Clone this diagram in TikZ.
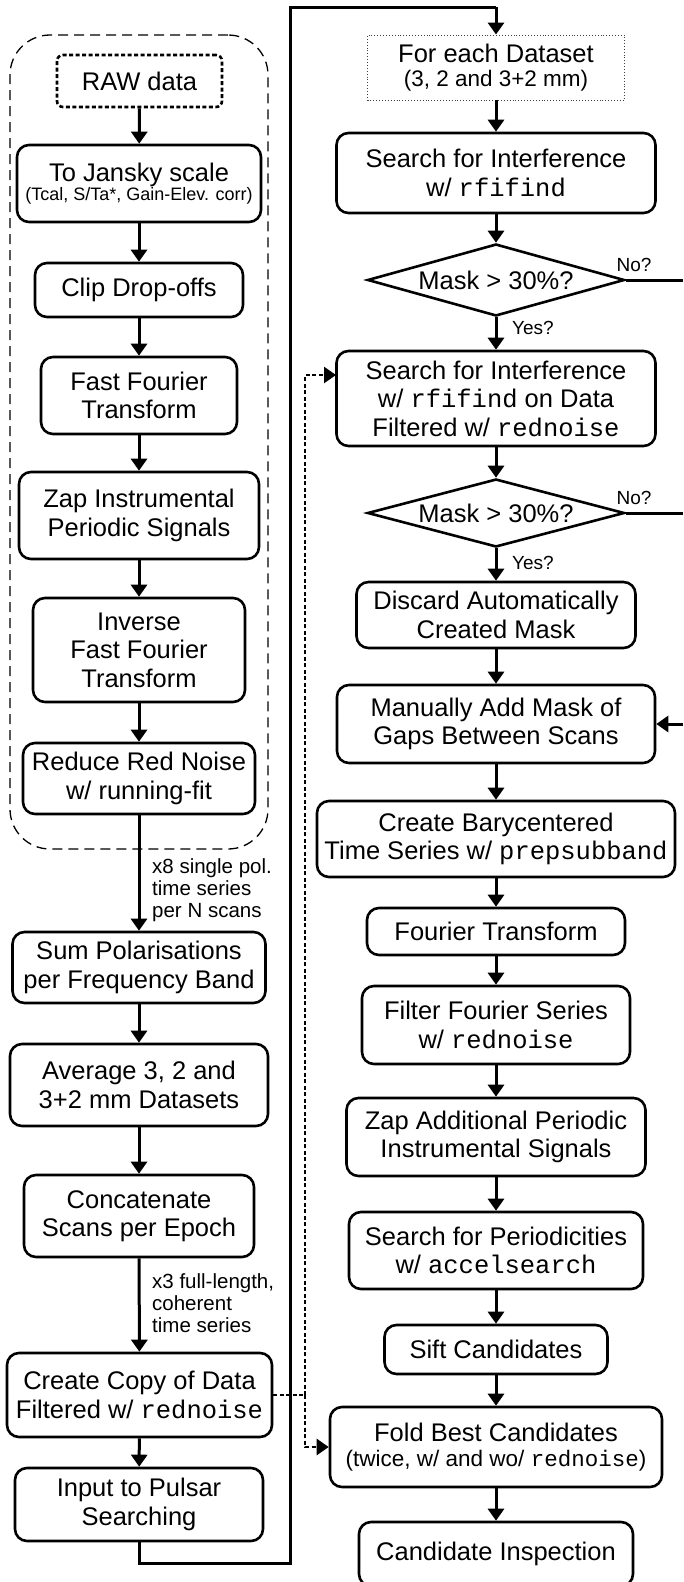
\documentclass[tikz,border=0pt]{standalone}
\usepackage{fontspec}
\setmainfont{Liberation Sans}
\setmonofont{Liberation Mono}
\usetikzlibrary{arrows.meta,shapes.geometric}
\newcommand\smalltxt{\fontsize{18}{20}\selectfont}
\newcommand\midtxt{\fontsize{22.5}{25}\selectfont}
\newcommand\labeltxt{\fontsize{20.5}{22}\selectfont}
\begin{document}
\begin{tikzpicture}[x=1pt,y=-1pt,
  box/.style={draw, line width=2.6pt, rounded corners=12pt, align=center, inner sep=0pt, font=\fontsize{25.5}{28.5}\selectfont},
  dec/.style={draw, shape=diamond, line width=2.6pt, aspect=3.57, inner sep=0pt, font=\fontsize{25.5}{28.5}\selectfont},
  arr/.style={line width=3pt, -{Triangle[length=12pt,width=16pt]}},
  ln/.style={line width=3pt},
  dots/.style={line width=2.6pt, dash pattern=on 4pt off 2.5pt},
  lbl/.style={font=\labeltxt, align=left, inner sep=0pt, anchor=west},
  yn/.style={font=\fontsize{19}{22}\selectfont, inner sep=0pt}
]
\useasboundingbox (0,0) rectangle (683,1582);
% group
\node[draw, line width=1.3pt, dash pattern=on 10pt off 6pt, rounded corners=40pt, minimum width=258pt, minimum height=814pt, inner sep=0pt] (group) at (139,442) {};
% left column
\node[box, line width=2.6pt, dash pattern=on 4pt off 2.5pt, rounded corners=6pt, minimum width=165pt, minimum height=52pt] (raw) at (139.5,81) {RAW data};
\node[box, minimum width=244pt, minimum height=77pt] (jansky) at (139,183.5) {To Jansky scale\\[-9pt]{\smalltxt (Tcal, S/Ta*, Gain-Elev. corr)}};
\node[box, minimum width=208pt, minimum height=54pt] (clip) at (139,290) {Clip Drop-offs};
\node[box, minimum width=196pt, minimum height=77pt] (fft) at (139,395.5) {Fast Fourier\\Transform};
\node[box, minimum width=240pt, minimum height=87pt] (zap) at (139,515.5) {Zap Instrumental\\Periodic Signals};
\node[box, minimum width=212pt, minimum height=104pt] (ifft) at (139,650) {Inverse\\Fast Fourier\\Transform};
\node[box, minimum width=232pt, minimum height=71pt] (red) at (139,778.5) {Reduce Red Noise\\w/ running-fit};
\node[box, minimum width=253pt, minimum height=71pt] (sum) at (139,967.5) {Sum Polarisations\\per Frequency Band};
\node[box, minimum width=258pt, minimum height=82pt] (avg) at (139,1085) {Average 3, 2 and\\3+2 mm Datasets};
\node[box, minimum width=230pt, minimum height=82pt] (conc) at (139,1216) {Concatenate\\Scans per Epoch};
\node[box, minimum width=265pt, minimum height=84pt] (copy) at (139.5,1395) {Create Copy of Data\\Filtered w/ \texttt{rednoise}};
\node[box, minimum width=248pt, minimum height=73pt] (input) at (139,1504.5) {Input to Pulsar\\Searching};
\node[lbl] (l1) at (152,890) {x8 single pol.\\time series\\per N scans};
\node[lbl] (l2) at (152,1303) {x3 full-length,\\coherent\\time series};
% right column
\node[draw=black!75, line width=0.9pt, dotted, align=center, inner sep=0pt, minimum width=257pt, minimum height=65pt, font=\fontsize{25.5}{28.5}\selectfont] (each) at (496,67.5) {For each Dataset\\[-4pt]{\midtxt (3, 2 and 3+2 mm)}};
\node[box, minimum width=319pt, minimum height=80pt] (s1) at (496,173) {Search for Interference\\w/ \texttt{rfifind}};
\node[dec, minimum width=257pt, minimum height=72pt] (d1) at (496,280) {Mask > 30\%?};
\node[box, minimum width=319pt, minimum height=95pt] (s2) at (496,398.5) {Search for Interference\\w/ \texttt{rfifind} on Data\\Filtered w/ \texttt{rednoise}};
\node[dec, minimum width=257pt, minimum height=68pt] (d2) at (496,513) {Mask > 30\%?};
\node[box, minimum width=279pt, minimum height=66pt] (disc) at (496,615) {Discard Automatically\\Created Mask};
\node[box, minimum width=318pt, minimum height=78pt] (man) at (496,724) {Manually Add Mask of\\Gaps Between Scans};
\node[box, minimum width=358pt, minimum height=76pt] (bary) at (496,839) {Create Barycentered\\Time Series w/ \texttt{prepsubband}};
\node[box, minimum width=258pt, minimum height=47pt] (ft) at (496,931.5) {Fourier Transform};
\node[box, minimum width=268pt, minimum height=78pt] (filt) at (496,1025) {Filter Fourier Series\\w/ \texttt{rednoise}};
\node[box, minimum width=299pt, minimum height=78pt] (zapadd) at (496,1137) {Zap Additional Periodic\\Instrumental Signals};
\node[box, minimum width=294pt, minimum height=77pt] (per) at (496,1250.5) {Search for Periodicities\\w/ \texttt{accelsearch}};
\node[box, minimum width=223pt, minimum height=49pt] (sift) at (496,1349.5) {Sift Candidates};
\node[box, minimum width=332pt, minimum height=80pt] (fold) at (496,1447) {Fold Best Candidates\\[-4pt]{\midtxt (twice, w/ and wo/ \texttt{rednoise})}};
\node[box, minimum width=274pt, minimum height=64pt] (cand) at (496,1554) {Candidate Inspection};
\node[yn] (no1) at (634,265) {No?};
\node[yn] (yes1) at (533,328) {Yes?};
\node[yn] (no2) at (634,498) {No?};
\node[yn] (yes2) at (533,563) {Yes?};
% coordinates
\coordinate (e1) at (683,280);
\coordinate (e2) at (683,513);
\coordinate (e3) at (683,724);
\coordinate (b1) at (139,1563);
\coordinate (b2) at (290,1563);
\coordinate (t1) at (290,7);
\coordinate (t2) at (496,7);
\coordinate (j1) at (305,1395);
\coordinate (j2) at (305,375);
\coordinate (j3) at (305,1447);
\coordinate (s2in) at (336,375);
% left arrows
\draw[arr] (raw) -- (jansky);
\draw[arr] (jansky) -- (clip);
\draw[arr] (clip) -- (fft);
\draw[arr] (fft) -- (zap);
\draw[arr] (zap) -- (ifft);
\draw[arr] (ifft) -- (red);
\draw[arr] (red) -- (sum);
\draw[arr] (sum) -- (avg);
\draw[arr] (avg) -- (conc);
\draw[arr] (conc) -- (copy);
\draw[arr] (copy) -- (input);
\draw[ln, line join=miter] (input.south) -- (b1) -- (b2) -- (t1) -- (t2);
\draw[arr] (t2) -- (each.north);
% right arrows
\draw[arr] (each) -- (s1);
\draw[arr] (s1) -- (d1);
\draw[arr] (d1) -- (s2);
\draw[arr] (s2) -- (d2);
\draw[arr] (d2) -- (disc);
\draw[arr] (disc) -- (man);
\draw[arr] (man) -- (bary);
\draw[arr] (bary) -- (ft);
\draw[arr] (ft) -- (filt);
\draw[arr] (filt) -- (zapadd);
\draw[arr] (zapadd) -- (per);
\draw[arr] (per) -- (sift);
\draw[arr] (sift) -- (fold);
\draw[arr] (fold) -- (cand);
\draw[ln] (d1.east) -- (e1);
\draw[ln] (d2.east) -- (e2);
\draw[arr] (e3) -- (man.east);
% dotted
\draw[dots] (copy.east) -- (j1);
\draw[dots, -{Triangle[length=12pt,width=16pt]}] (j1) -- (j2) -- (s2in);
\draw[dots, -{Triangle[length=12pt,width=16pt]}] (j1) -- (j3) -- (fold.west);
\end{tikzpicture}
\end{document}
